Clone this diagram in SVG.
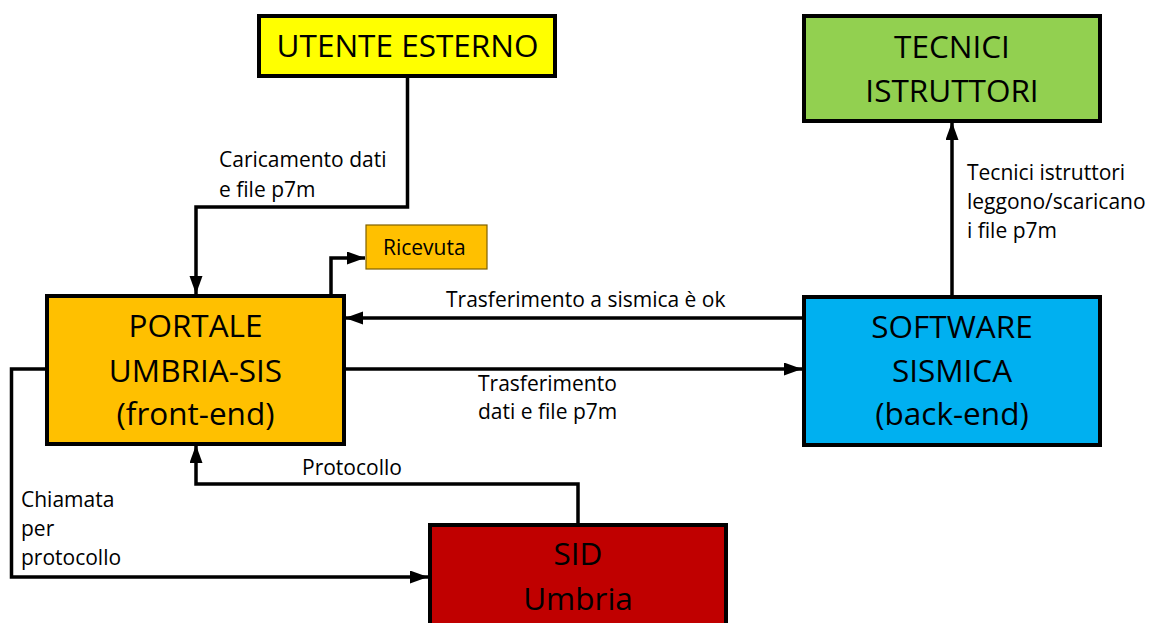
<svg xmlns="http://www.w3.org/2000/svg" width="1150" height="623" viewBox="0 0 1150 623">
  <style>
    .box { stroke: #000; stroke-width: 4; }
    .big { font-family: "Open Sans", "Noto Sans", sans-serif; font-size: 31.5px; fill: #000; text-anchor: middle; }
    .lbl { font-family: "Open Sans", "Noto Sans", sans-serif; font-size: 21px; fill: #000; }
    .conn { fill: none; stroke: #000; stroke-width: 3.5; }
  </style>
  <defs>
    <marker id="arr" markerUnits="userSpaceOnUse" markerWidth="20" markerHeight="14" refX="18" refY="6.5" orient="auto">
      <path d="M0,0 L18,6.5 L0,13 z" fill="#000"/>
    </marker>
  </defs>
  <rect width="1150" height="623" fill="#fff"/>

  <g id="connectors">
    <path class="conn" d="M407.5,76 V207 H196 V294" marker-end="url(#arr)"/>
    <path class="conn" d="M331,295 V258 H365" marker-end="url(#arr)"/>
    <path class="conn" d="M803,318 H345" marker-end="url(#arr)"/>
    <path class="conn" d="M344,369 H802" marker-end="url(#arr)"/>
    <path class="conn" d="M952,297 V122" marker-end="url(#arr)"/>
    <path class="conn" d="M47,369 H11.5 V577 H428" marker-end="url(#arr)"/>
    <path class="conn" d="M578,523 V484 H196 V445" marker-end="url(#arr)"/>
  </g>

  <g id="labels">
    <text class="lbl" x="219" y="167">Caricamento dati</text>
    <text class="lbl" x="219" y="197">e file p7m</text>
    <text class="lbl" x="446" y="307">Trasferimento a sismica è ok</text>
    <text class="lbl" x="478" y="391">Trasferimento</text>
    <text class="lbl" x="478" y="419">dati e file p7m</text>
    <text class="lbl" x="967" y="180">Tecnici istruttori</text>
    <text class="lbl" x="967" y="209">leggono/scaricano</text>
    <text class="lbl" x="967" y="238">i file p7m</text>
    <text class="lbl" x="302" y="475">Protocollo</text>
    <text class="lbl" x="21" y="507">Chiamata</text>
    <text class="lbl" x="21" y="536">per</text>
    <text class="lbl" x="21" y="565">protocollo</text>
  </g>

  <g id="utente">
    <rect class="box" x="259" y="16" width="296" height="60" fill="#FFFF00"/>
    <text class="big" x="407.5" y="57">UTENTE ESTERNO</text>
  </g>

  <g id="tecnici">
    <rect class="box" x="804" y="16" width="296" height="105" fill="#92D050"/>
    <text class="big" x="952" y="58">TECNICI</text>
    <text class="big" x="952" y="102">ISTRUTTORI</text>
  </g>

  <g id="ricevuta">
    <rect x="366" y="225" width="121" height="44" fill="#FFC000" stroke="#7F6000" stroke-width="1.2"/>
    <text class="lbl" x="383" y="255">Ricevuta</text>
  </g>

  <g id="portale">
    <rect class="box" x="47" y="296" width="297" height="148" fill="#FFC000"/>
    <text class="big" x="195.5" y="337">PORTALE</text>
    <text class="big" x="195.5" y="382">UMBRIA-SIS</text>
    <text class="big" x="195.5" y="425">(front-end)</text>
  </g>

  <g id="software">
    <rect class="box" x="804" y="297" width="296" height="148" fill="#00B0F0"/>
    <text class="big" x="952" y="338">SOFTWARE</text>
    <text class="big" x="952" y="382">SISMICA</text>
    <text class="big" x="952" y="425">(back-end)</text>
  </g>

  <g id="sid">
    <rect class="box" x="430" y="525" width="296" height="110" fill="#C00000"/>
    <text class="big" x="578" y="565">SID</text>
    <text class="big" x="578" y="610">Umbria</text>
  </g>
</svg>
